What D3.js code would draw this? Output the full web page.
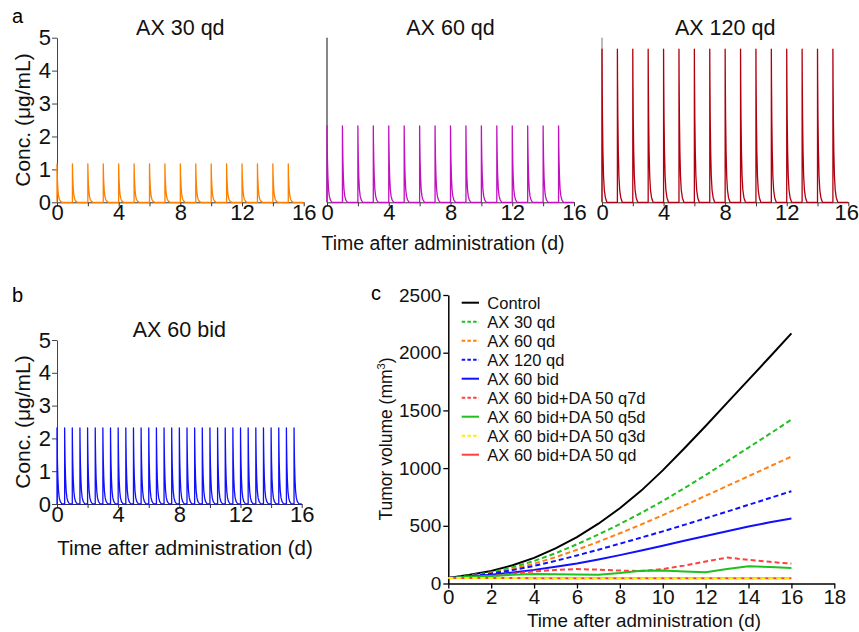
<!DOCTYPE html>
<html>
<head>
<meta charset="utf-8">
<script src="https://cdn.jsdelivr.net/npm/d3@7"></script>
<style>
  body { margin: 0; background: #fff; }
  svg { font-family: "Liberation Sans", Arial, sans-serif; }
</style>
</head>
<body>
<svg id="fig" width="859" height="632"></svg>
<script>
// ---- data ----
// dose times (days)
const qdDoses = [0, 1, 2, 3, 4, 5, 6, 7, 8, 9, 10, 11, 12, 13, 14, 15];
const bidDoses = [0, 0.5, 1, 1.5, 2, 2.5, 3, 3.5, 4, 4.5, 5, 5.5, 6, 6.5, 7, 7.5,
                  8, 8.5, 9, 9.5, 10, 10.5, 11, 11.5, 12, 12.5, 13, 13.5, 14, 14.5, 15, 15.5];
// shape of one concentration spike: time after dose (d) and fraction of the peak
const decayOffset = [0, 0.01, 0.03, 0.06, 0.1, 0.15, 0.22, 0.32];
const decayFrac = [1, 0.8, 0.55, 0.33, 0.17, 0.08, 0.03, 0];

const qdTitles = ["AX 30 qd", "AX 60 qd", "AX 120 qd"];
const qdPeaks = [1.17, 2.32, 4.65];
const bidTitle = "AX 60 bid";
const bidPeak = 2.32;

const concTicks = [0, 1, 2, 3, 4, 5];
const timeTicks = [0, 4, 8, 12, 16];

// tumour volume (mm3) at each day
const days = [0, 1, 2, 3, 4, 5, 6, 7, 8, 9, 10, 11, 12, 13, 14, 15, 16];
const control   = [48, 75, 108, 158, 222, 305, 402, 518, 652, 805, 980, 1170, 1365, 1565, 1765, 1965, 2168];
const ax30qd    = [48, 70, 98, 140, 195, 262, 340, 425, 515, 612, 715, 825, 940, 1058, 1178, 1298, 1420];
const ax60qd    = [48, 66, 90, 126, 172, 228, 292, 362, 435, 512, 592, 675, 760, 845, 930, 1015, 1100];
const ax120qd   = [48, 64, 86, 116, 153, 196, 243, 293, 345, 398, 452, 508, 565, 623, 682, 741, 800];
const ax60bid   = [48, 60, 75, 96, 118, 145, 173, 208, 246, 286, 327, 370, 412, 452, 494, 530, 563];
const daQ7d     = [48, 55, 65, 85, 105, 118, 125, 120, 112, 108, 125, 155, 190, 225, 205, 188, 172];
const daQ5d     = [48, 58, 65, 75, 82, 80, 78, 75, 90, 110, 112, 105, 98, 125, 150, 142, 135];
const daQ3d     = [48, 48, 47, 47, 46, 46, 46, 46, 46, 46, 46, 46, 46, 46, 46, 46, 46];
const daQd      = [48, 48, 47, 47, 46, 46, 46, 46, 46, 46, 46, 46, 46, 46, 46, 46, 46];

const groupNames = ["Control", "AX 30 qd", "AX 60 qd", "AX 120 qd", "AX 60 bid",
  "AX 60 bid+DA 50 q7d", "AX 60 bid+DA 50 q5d", "AX 60 bid+DA 50 q3d", "AX 60 bid+DA 50 qd"];
const groupValues = [control, ax30qd, ax60qd, ax120qd, ax60bid, daQ7d, daQ5d, daQ3d, daQd];
const volTicks = [0, 500, 1000, 1500, 2000, 2500];
const dayTicks = [0, 2, 4, 6, 8, 10, 12, 14, 16, 18];

// ---- styles ----
const qdColors = ["#ff8000", "#c010c0", "#b00010"];
const bidColor = "#1010ff";
const groupColors = ["#000000", "#20c020", "#ff8010", "#1010ff", "#1010ff",
  "#ff4040", "#20c020", "#ffee00", "#ff4040"];
const groupDash = [null, "5,3", "5,3", "5,3", null, "5,3", null, "5,3", null];
const drawOrder = [0, 1, 2, 3, 4, 5, 6, 8, 7];

const svg = d3.select("#fig");
const FONT_TICK = 22;
const fmt = d3.format("d");

function spikes(doses, peak, end) {
  const pts = [];
  doses.forEach(d => {
    pts.push([d, 0]);
    decayOffset.forEach((o, i) => pts.push([d + o, peak * decayFrac[i]]));
  });
  pts.push([end, 0]);
  return pts;
}

function concPlot(x0, x1, y0, y1, opts) {
  const x = d3.scaleLinear().domain([0, 16]).range([x0, x1]);
  const y = d3.scaleLinear().domain([0, 5]).range([y0, y1]);
  const g = svg.append("g");

  // x axis: ticks every 2 d, labels every 4 d
  const xa = g.append("g").attr("transform", `translate(0,${y0})`)
    .call(d3.axisBottom(x).tickValues(d3.range(0, 17, 2)).tickSize(4).tickSizeOuter(0)
      .tickFormat(d => timeTicks.includes(d) ? fmt(d) : ""));
  xa.select(".domain").attr("stroke", "#333");
  xa.selectAll(".tick line").attr("stroke", "#333");
  xa.selectAll(".tick text").attr("font-size", FONT_TICK).attr("fill", "#111")
    .attr("dy", "0.72em").attr("y", 2);
  if (opts.lastShift) {
    xa.selectAll(".tick text").filter(d => d === 16).attr("x", opts.lastShift);
  }

  // y axis
  if (opts.yLabels) {
    const ya = g.append("g").attr("transform", `translate(${x0},0)`)
      .call(d3.axisLeft(y).tickValues(concTicks).tickSize(5).tickSizeOuter(0).tickFormat(fmt));
    ya.select(".domain").attr("stroke", "#444");
    ya.selectAll(".tick line").attr("stroke", "#444");
    ya.selectAll(".tick text").attr("font-size", FONT_TICK).attr("fill", "#111").attr("x", -6);
  } else {
    g.append("line").attr("x1", x0).attr("x2", x0).attr("y1", y0).attr("y2", y1)
      .attr("stroke", opts.axisColor || "#222").attr("stroke-width", 1);
  }

  const line = d3.line().x(d => x(d[0])).y(d => y(d[1]));
  g.append("path").attr("d", line(spikes(opts.doses, opts.peak, 16)))
    .attr("fill", "none").attr("stroke", opts.color).attr("stroke-width", 1.3)
    .attr("stroke-linejoin", "round");

  g.append("text").attr("x", (x0 + x1) / 2).attr("y", opts.titleY)
    .attr("text-anchor", "middle").attr("font-size", 21.5).attr("fill", "#111")
    .text(opts.title);
}

// panel a
const aRanges = [[57, 303.7], [327, 574], [602, 848.3]];
const aAxisColors = ["#444", "#111", "#777"];
qdTitles.forEach((t, i) => {
  concPlot(aRanges[i][0], aRanges[i][1], 202.3, 37.7, {
    yLabels: i === 0, axisColor: aAxisColors[i], doses: qdDoses,
    peak: qdPeaks[i], color: qdColors[i], title: t, titleY: 35,
    lastShift: i === 2 ? -2 : 0
  });
});

svg.append("text").attr("x", 12).attr("y", 23).attr("font-size", 20).text("a");
svg.append("text").attr("transform", "translate(30,120) rotate(-90)")
  .attr("text-anchor", "middle").attr("font-size", 21).attr("fill", "#111").text("Conc. (μg/mL)");
svg.append("text").attr("x", 443).attr("y", 250).attr("text-anchor", "middle")
  .attr("font-size", 19.5).attr("fill", "#111").text("Time after administration (d)");

// panel b
concPlot(57, 301.7, 504, 340, {
  yLabels: true, doses: bidDoses, peak: bidPeak, color: bidColor,
  title: bidTitle, titleY: 337
});
svg.append("text").attr("x", 12).attr("y", 302).attr("font-size", 20).text("b");
svg.append("text").attr("transform", "translate(30,422) rotate(-90)")
  .attr("text-anchor", "middle").attr("font-size", 21).attr("fill", "#111").text("Conc. (μg/mL)");
svg.append("text").attr("x", 185).attr("y", 555).attr("text-anchor", "middle")
  .attr("font-size", 20.5).attr("fill", "#111").text("Time after administration (d)");

// panel c
const cx = d3.scaleLinear().domain([0, 18]).range([448.3, 834.3]);
const cy = d3.scaleLinear().domain([0, 2500]).range([583.5, 295]);
const gc = svg.append("g");

const cxa = gc.append("g").attr("transform", "translate(0,583.5)")
  .call(d3.axisBottom(cx).tickValues(dayTicks).tickSize(5).tickSizeOuter(0).tickFormat(fmt));
const cya = gc.append("g").attr("transform", "translate(448.3,0)")
  .call(d3.axisLeft(cy).tickValues(volTicks).tickSize(5).tickSizeOuter(0).tickFormat(fmt));
[cxa, cya].forEach(a => {
  a.select(".domain").attr("stroke", "#000").attr("stroke-width", 1.5);
  a.selectAll(".tick line").attr("stroke", "#000").attr("stroke-width", 1.3);
  a.selectAll(".tick text").attr("fill", "#111");
});
cxa.selectAll(".tick text").attr("font-size", 20.5).attr("y", 6).attr("dy", "0.72em");
cya.selectAll(".tick text").attr("font-size", 19).attr("x", -7);

const vline = d3.line().x((d, i) => cx(days[i])).y(d => cy(d));
drawOrder.forEach(k => {
  gc.append("path").attr("d", vline(groupValues[k]))
    .attr("fill", "none").attr("stroke", groupColors[k]).attr("stroke-width", 2)
    .attr("stroke-dasharray", groupDash[k]);
});

// legend
groupNames.forEach((n, i) => {
  const yy = 302.7 + i * 19;
  gc.append("line").attr("x1", 461.7).attr("x2", 479).attr("y1", yy).attr("y2", yy)
    .attr("stroke", groupColors[i]).attr("stroke-width", 2)
    .attr("stroke-dasharray", groupDash[i] ? "3.5,2.2" : null);
  gc.append("text").attr("x", 487.3).attr("y", yy + 6).attr("font-size", 16.5)
    .attr("fill", "#111").text(n);
});

svg.append("text").attr("x", 371).attr("y", 300).attr("font-size", 20).text("c");
svg.append("text").attr("transform", "translate(392,439) rotate(-90)")
  .attr("text-anchor", "middle").attr("font-size", 17.5).attr("fill", "#111")
  .html('Tumor volume (mm<tspan dy="-7" font-size="11">3</tspan><tspan dy="7">)</tspan>');
svg.append("text").attr("x", 644).attr("y", 627).attr("text-anchor", "middle")
  .attr("font-size", 18.8).attr("fill", "#111").text("Time after administration (d)");
</script>
</body>
</html>
